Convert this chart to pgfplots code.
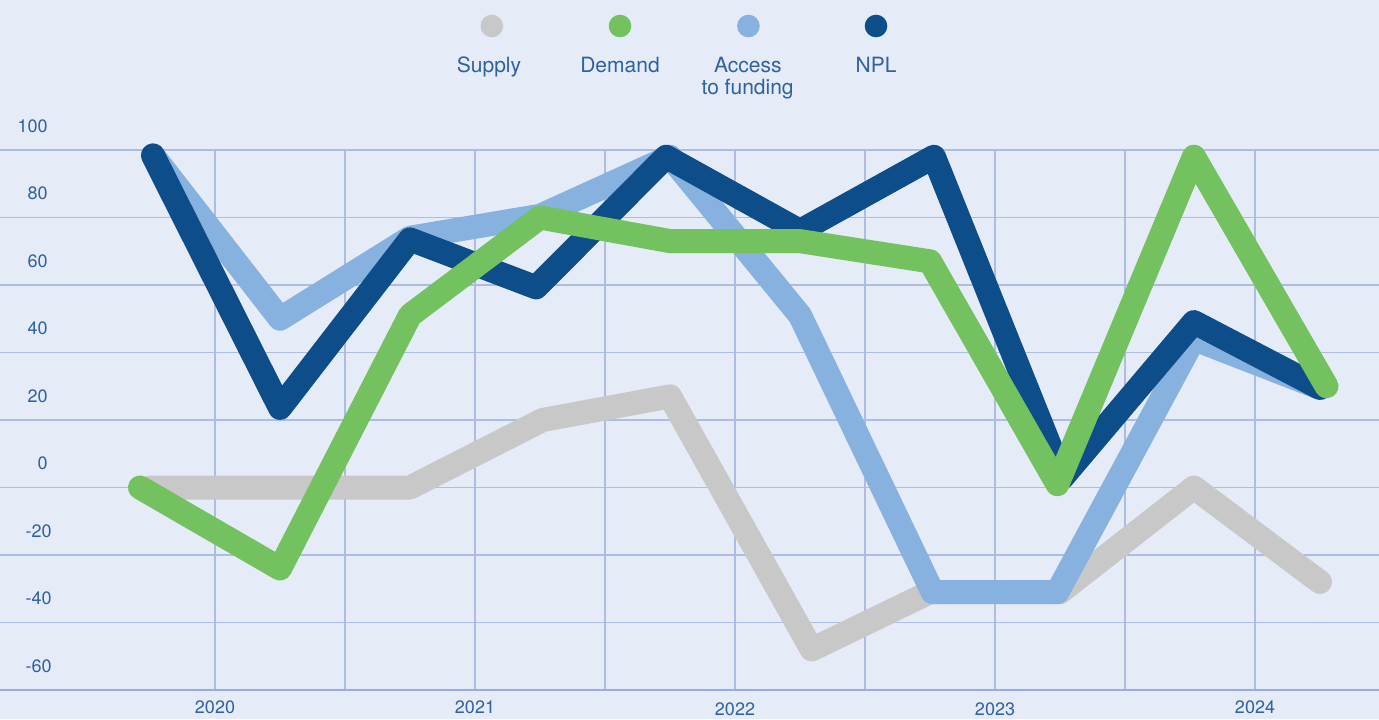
\documentclass[border=0pt]{standalone}
\usepackage{fontspec}
\setmainfont{TeX Gyre Heros}
\usepackage{pgfplots}
\pgfplotsset{compat=1.18}
\definecolor{bg}{HTML}{E5EBF7}
\definecolor{gridc}{HTML}{ADBCE3}
\definecolor{axisc}{HTML}{98ADDF}
\definecolor{txt}{HTML}{2E62A0}
\definecolor{cSupply}{HTML}{C8C8C9}
\definecolor{cDemand}{HTML}{73C15F}
\definecolor{cAccess}{HTML}{87B1DE}
\definecolor{cNPL}{HTML}{0D4D8A}
\begin{document}
\begin{tikzpicture}
\fill[bg] (0,-14.5pt) rectangle (689.5pt,345pt);
\begin{axis}[
  at={(0,0)}, anchor=south west,
  x=65pt, y=1.6875pt,
  xmin=-1.153846, xmax=9.453846, ymin=-60, ymax=100,
  clip=false,
  no marks,
  axis line style={draw=none},
  major tick length=0pt,
  xtick={0.5,1.5,2.5,3.5,4.5,5.5,6.5,7.5,8.5},
  xticklabels={2020,,2021,,\raisebox{-1pt}{2022},,\raisebox{-1pt}{2023},,2024},
  ytick={-60,-40,-20,0,20,40,60,80,100},
  yticklabels={-60\kern-2pt,-40\kern-2pt,-20\kern-2pt,0,20,40,60,80,100},
  grid=major,
  grid style={draw=gridc, line width=0.6pt},
  /pgf/number format/assume math mode=true,
  ticklabel style={font=\fontsize{9}{10}\selectfont, text=txt},
  xticklabel style={anchor=base, yshift=-11.5pt, inner sep=0pt},
  yticklabel style={anchor=east, inner sep=0pt, xshift=24pt, yshift=12pt},
  every axis plot/.append style={line width=12pt, line cap=round, line join=round},
]
\addplot[cSupply] coordinates {(0,0) (1,0) (2,0) (3.02,20) (4,27) (5.09,-48) (6,-31) (7,-31) (8.03,0) (9,-28)};
\addplot[cAccess] coordinates {(0.023,98.4) (1,50) (2,74) (3,80.5) (4,98) (5,51) (6.02,-31) (6.98,-31) (8.03,44) (9,29.5)};
\addplot[cNPL] coordinates {(0.023,98.4) (1,23.6) (2,73.5) (2.97,59.3) (3.97,98) (5,76) (6.03,98) (7.02,3) (8.03,49) (9,29.5)};
\addplot[cDemand] coordinates {(-0.077,0) (1,-24) (2,51) (3,80) (4,73) (5,73) (6,67) (6.98,1) (8.03,98) (9.05,30)};
\end{axis}
\draw[axisc, line width=0.8pt] (0,0) -- (689.5pt,0);
\fill[cSupply] (245.9pt,332pt) circle (5.65pt);
\fill[cDemand] (310pt,332pt) circle (5.65pt);
\fill[cAccess] (374.2pt,332pt) circle (5.65pt);
\fill[cNPL] (438pt,332pt) circle (5.65pt);
\begin{scope}[every node/.style={anchor=base, inner sep=0pt, font=\fontsize{10.5}{12}\selectfont, text=txt}]
\node at (244.5pt,308.6pt) {Supply};
\node at (310pt,308.6pt) {Demand};
\node at (373.9pt,308.6pt) {Access};
\node at (373.8pt,297.8pt) {to funding};
\node at (438pt,308.6pt) {NPL};
\end{scope}
\pgfresetboundingbox
\path[use as bounding box] (0,-14.5pt) rectangle (689.5pt,345pt);
\end{tikzpicture}
\end{document}
